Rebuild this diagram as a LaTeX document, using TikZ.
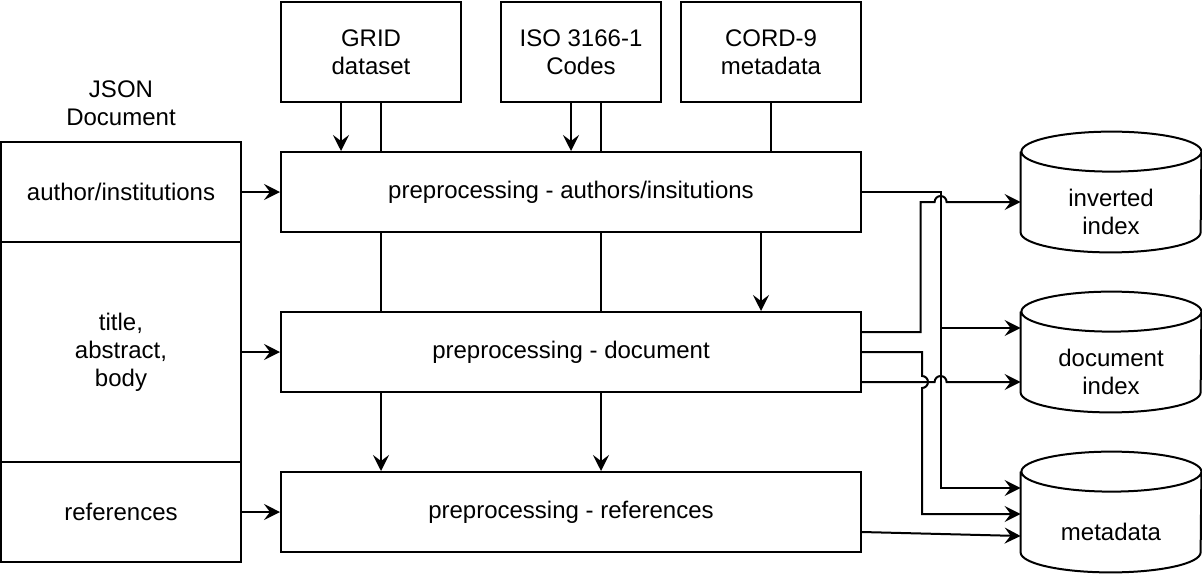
\documentclass[tikz,border=0pt]{standalone}
\usepackage{fontspec}
\setmainfont{Liberation Sans}
\usetikzlibrary{arrows.meta, calc, backgrounds}

\begin{document}
\begin{tikzpicture}[
    box/.style={draw, fill=white, line width=1pt, align=center,
                inner sep=0pt, font=\fontsize{12}{14}\selectfont},
    db/.style={align=center, inner sep=0pt, minimum width=90pt,
               minimum height=40pt, font=\fontsize{12}{14}\selectfont},
    arr/.style={-{Stealth[length=8pt, width=8pt, inset=3pt]}, line width=1pt},
    ln/.style={line width=1pt},
    x=0.5pt, y=-0.5pt
  ]
  \useasboundingbox (0,0) rectangle (1202,574);

  % sources
  \node[box, minimum width=90pt, minimum height=50pt] (grid) at (371, 52) {GRID\\ dataset};
  \node[box, minimum width=80pt, minimum height=50pt] (iso)  at (581, 52) {ISO 3166-1\\Codes};
  \node[box, minimum width=90pt, minimum height=50pt] (cord) at (771, 52) {CORD-9\\metadata};

  % preprocessing steps
  \node[box, minimum width=290pt, minimum height=40pt] (auth) at (571, 192) {preprocessing - authors/insitutions};
  \node[box, minimum width=290pt, minimum height=40pt] (doc)  at (571, 352) {preprocessing - document};
  \node[box, minimum width=290pt, minimum height=40pt] (refs) at (571, 512) {preprocessing - references};

  % json document
  \node[font=\fontsize{12}{14}\selectfont, align=center] (json) at (121, 103) {JSON\\Document};
  \node[box, minimum width=120pt, minimum height=50pt]  (jauth) at (121, 192) {author/institutions};
  \node[box, minimum width=120pt, minimum height=110pt] (jtext) at (121, 352) {title,\\abstract,\\body};
  \node[box, minimum width=120pt, minimum height=50pt]  (jrefs) at (121, 512) {references};

  % indexes (body part of the cylinders)
  \node[db] (inv)  at (1111, 212) {inverted\\ index};
  \node[db] (didx) at (1111, 372) {document\\ index};
  \node[db] (meta) at (1111, 532) {metadata};
  \begin{scope}[on background layer]
    \foreach \c in {inv, didx, meta}
      \draw[ln, fill=white] ([yshift=10pt]\c.north west)
        -- ([yshift=10pt]\c.south west)
        arc[start angle=180, end angle=360, x radius=45pt, y radius=10pt]
        -- ([yshift=10pt]\c.north east)
        arc[start angle=0, end angle=180, x radius=45pt, y radius=10pt]
        arc[start angle=180, end angle=360, x radius=45pt, y radius=10pt];
    % lines passing behind the boxes
    \draw[arr] ([xshift=5pt]grid.south) -- ([xshift=5pt]grid.south |- refs.north);
    \draw[arr] ([xshift=10pt]iso.south) -- ([xshift=10pt]iso.south |- refs.north);
    \draw[ln] (cord.south) -- (cord.south |- auth.north);
  \end{scope}

  \draw[arr] ([xshift=-15pt]grid.south) -- ([xshift=-15pt]grid.south |- auth.north);
  \draw[arr] ([xshift=-5pt]iso.south) -- ([xshift=-5pt]iso.south |- auth.north);
  \draw[arr] ([xshift=95pt]auth.south) -- ([xshift=95pt]auth.south |- doc.north);

  \draw[arr] (jauth) -- (auth);
  \draw[arr] (jtext) -- (doc);
  \draw[arr] (jrefs) -- (refs);

  % outputs
  \draw[arr] (auth.east) -| ($(meta.west)+(-80,-44)$) -- ($(meta.west)+(0,-44)$);
  \draw[arr] (auth.east) -| ($(didx.west)+(-80,-44)$) -- ($(didx.west)+(0,-44)$);
  \draw[arr] ($(doc.east)+(0,-20)$) -| ($(inv.west)+(-100,-10)$)
    -- ($(inv.west)+(-86,-10)$) arc[start angle=180, end angle=0, radius=3pt]
    -- ($(inv.west)+(0,-10)$);
  \draw[arr] (doc.east) -| ($(doc.east)+(60,24)$)
    arc[start angle=90, end angle=-90, radius=3pt]
    |- ($(meta.west)+(0,-18)$);
  \draw[arr] ($(doc.east)+(0,30)$) -- ($(didx.west)+(-86,10)$)
    arc[start angle=180, end angle=0, radius=3pt]
    -- ($(didx.west)+(0,10)$);
  \draw[arr] ($(refs.east)+(0,20)$) -- ($(meta.west)+(0,4)$);
\end{tikzpicture}
\end{document}
